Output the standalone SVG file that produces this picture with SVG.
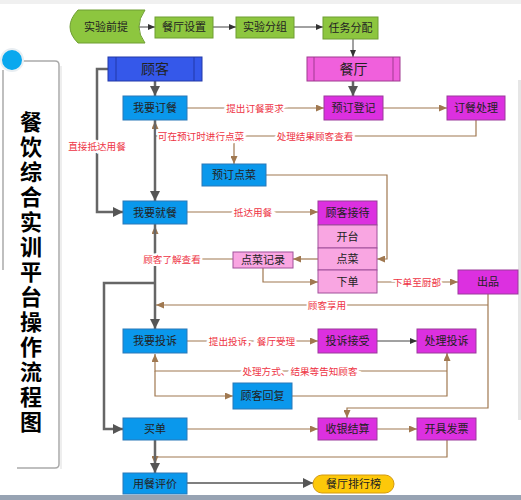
<svg xmlns="http://www.w3.org/2000/svg" width="521" height="500" viewBox="0 0 521 500">
<defs>
<style>
.t{font-family:"Noto Sans CJK SC","Noto Sans",sans-serif;font-size:11px;fill:#222;text-anchor:middle}
.big{font-size:14px}
.lbl{font-family:"Noto Sans CJK SC","Noto Sans",sans-serif;font-size:9.6px;fill:#ee3344;text-anchor:middle;stroke:#fff;stroke-width:4;paint-order:stroke}
.green{fill:#8dc63f;stroke:#6f9e33;stroke-width:1}
.blue{fill:#0a98ec;stroke:#2a78b8;stroke-width:1}
.mag{fill:#dc30e0;stroke:#9a3a9a;stroke-width:1}
.pink{fill:#f9a6e2;stroke:#a0509a;stroke-width:1}
.br{fill:none;stroke:#a07850;stroke-width:1.2}
.gr{fill:none;stroke:#666;stroke-width:2.5}
.dk{fill:none;stroke:#444;stroke-width:1}
</style>
<marker id="ab" markerUnits="userSpaceOnUse" markerWidth="8" markerHeight="7" refX="8" refY="3.5" orient="auto"><path d="M0,0 L8,3.5 L0,7 z" fill="#a07850"/></marker>
<marker id="ag" markerUnits="userSpaceOnUse" markerWidth="10" markerHeight="10" refX="10" refY="5" orient="auto"><path d="M0,0 L10,5 L0,10 z" fill="#555"/></marker>
<marker id="ad" markerUnits="userSpaceOnUse" markerWidth="7" markerHeight="6" refX="7" refY="3" orient="auto"><path d="M0,0 L7,3 L0,6 z" fill="#333"/></marker>
</defs>
<rect width="521" height="500" fill="#fff"/>
<rect x="0" y="0" width="521" height="4" fill="#f0f0f0"/>
<rect x="518" y="80" width="3" height="340" fill="#e6e6e6"/>
<rect x="0" y="495" width="521" height="5" fill="#97a3b3"/>

<g id="panel">
<path d="M18,61 H55 Q59,61 59,65 V464 Q59,468 55,468 H17" fill="none" stroke="#aaa" stroke-width="1.5"/>
<path d="M61,66 V469" fill="none" stroke="#ddd" stroke-width="1"/>
<path d="M3,70 V270" fill="none" stroke="#aaa" stroke-width="1.5"/>
<circle cx="12" cy="60" r="11" fill="#0aa8ee" stroke="#e8eef2" stroke-width="2"/>
<text x="31" y="111" writing-mode="tb" font-family="'Noto Sans CJK SC',sans-serif" font-size="22" font-weight="bold" fill="#000" letter-spacing="3">餐饮综合实训平台操作流程图</text>
</g>

<g id="connectors">
<path class="dk" d="M139,27 H155" marker-end="url(#ad)"/>
<path class="dk" d="M213,27 H236" marker-end="url(#ad)"/>
<path class="dk" d="M294,27 H323" marker-end="url(#ad)"/>
<path class="dk" d="M353,39 V57" marker-end="url(#ad)"/>
<path class="dk" d="M377,341 H417" marker-end="url(#ad)"/>

<path class="br" d="M233,259 H155 V226" marker-end="url(#ab)"/>
<path class="br" d="M476,120 V136 H155 V121" marker-end="url(#ab)"/>
<path class="br" d="M234,136 V164" marker-end="url(#ab)"/>
<path class="br" d="M187,108 H324" marker-end="url(#ab)"/>
<path class="br" d="M383,108 H447" marker-end="url(#ab)"/>
<path class="br" d="M266,175 H387 V259 H377" marker-end="url(#ab)"/>
<path class="br" d="M187,212 H318" marker-end="url(#ab)"/>
<path class="br" d="M318,259 H293" marker-end="url(#ab)"/>
<path class="br" d="M263,268 V282 H318" marker-end="url(#ab)"/>
<path class="br" d="M377,282 H458" marker-end="url(#ab)"/>
<path class="br" d="M488,294 V408 H347 V418" marker-end="url(#ab)"/>
<path class="br" d="M488,305 H156" marker-end="url(#ab)"/>
<path class="br" d="M187,341 H318" marker-end="url(#ab)"/>
<path class="br" d="M447,371 H155 V354" marker-end="url(#ab)"/>
<path class="br" d="M155,371 V396 H233" marker-end="url(#ab)"/>
<path class="br" d="M292,396 H447 V353" marker-end="url(#ab)"/>
<path class="br" d="M187,429 H318" marker-end="url(#ab)"/>
<path class="br" d="M377,429 H417" marker-end="url(#ab)"/>
<path class="br" d="M447,440 V457 H155 V464" marker-end="url(#ab)"/>

<path class="gr" d="M155,81 V96" marker-end="url(#ag)"/>
<path class="gr" d="M353,81 V96" marker-end="url(#ag)"/>
<path class="gr" d="M155,120 V201" marker-end="url(#ag)"/>
<path class="gr" d="M155,224 V329" marker-end="url(#ag)"/>
<path class="gr" d="M155,283 H104 V429 H123" marker-end="url(#ag)"/>
<path class="gr" d="M108,69 H97 V212 H123" marker-end="url(#ag)"/>
<path class="gr" d="M155,440 V473" marker-end="url(#ag)"/>
<path fill="none" stroke="#555" stroke-width="1.5" d="M187,483 H313" marker-end="url(#ag)"/>

<text class="lbl" x="255" y="111.5">提出订餐要求</text>
<text class="lbl" x="201" y="139.5">可在预订时进行点菜</text>
<text class="lbl" x="315" y="139.5">处理结果顾客查看</text>
<text class="lbl" x="97" y="149.5">直接抵达用餐</text>
<text class="lbl" x="253" y="215.5">抵达用餐</text>
<text class="lbl" x="172" y="262.5">顾客了解查看</text>
<text class="lbl" x="417" y="285.5">下单至厨部</text>
<text class="lbl" x="327" y="308.5">顾客享用</text>
<text class="lbl" x="252" y="344.5">提出投诉，餐厅受理</text>
<text class="lbl" x="300" y="374.5">处理方式、结果等告知顾客</text>
</g>

<g id="n_start"><path class="green" d="M78,10 H145 Q133,27 145,43 H78 Q62,27 78,10 Z"/><text class="t" x="106" y="31">实验前提</text></g>
<g id="n_setup"><rect class="green" x="155" y="17" width="58" height="21"/><text class="t" x="184" y="31">餐厅设置</text></g>
<g id="n_group"><rect class="green" x="236" y="17" width="58" height="21"/><text class="t" x="265" y="31">实验分组</text></g>
<g id="n_task"><rect class="green" x="323" y="17" width="55" height="22"/><text class="t" x="350.5" y="31.5">任务分配</text></g>

<g id="n_customer"><rect x="108" y="57" width="94" height="24" fill="#3558ea" stroke="#2238a8"/><path d="M116,57 V81 M194,57 V81" stroke="#2238a8" fill="none"/><text class="t big" x="155" y="74">顾客</text></g>
<g id="n_restaurant"><rect x="307" y="57" width="93" height="24" fill="#f060dc" stroke="#a03a90"/><path d="M314,57 V81 M393,57 V81" stroke="#a03a90" fill="none"/><text class="t big" x="353.5" y="74">餐厅</text></g>

<g id="n_order"><rect class="blue" x="123" y="96" width="64" height="24"/><text class="t" x="155" y="112">我要订餐</text></g>
<g id="n_book"><rect class="mag" x="324" y="96" width="59" height="24"/><text class="t" x="353.5" y="112">预订登记</text></g>
<g id="n_orderproc"><rect class="mag" x="447" y="96" width="58" height="24"/><text class="t" x="476" y="112">订餐处理</text></g>
<g id="n_preorder"><rect class="blue" x="202" y="164" width="64" height="22"/><text class="t" x="234" y="179">预订点菜</text></g>
<g id="n_dine"><rect class="blue" x="123" y="201" width="64" height="23"/><text class="t" x="155" y="216.5">我要就餐</text></g>
<g id="n_reception"><rect class="mag" x="318" y="201" width="59" height="24"/><text class="t" x="347.5" y="217">顾客接待</text></g>
<g id="n_table"><rect class="pink" x="318" y="225" width="59" height="23"/><text class="t" x="347.5" y="240.5">开台</text></g>
<g id="n_dish"><rect class="pink" x="318" y="248" width="59" height="22"/><text class="t" x="347.5" y="263">点菜</text></g>
<g id="n_submit"><rect class="pink" x="318" y="270" width="59" height="23"/><text class="t" x="347.5" y="285.5">下单</text></g>
<g id="n_record"><rect class="pink" x="233" y="252" width="60" height="16"/><text class="t" x="263" y="264">点菜记录</text></g>
<g id="n_serve"><rect class="mag" x="458" y="270" width="60" height="24"/><text class="t" x="488" y="286">出品</text></g>
<g id="n_complain"><rect class="blue" x="123" y="329" width="64" height="24"/><text class="t" x="155" y="345">我要投诉</text></g>
<g id="n_accept"><rect class="mag" x="318" y="329" width="59" height="24"/><text class="t" x="347.5" y="345">投诉接受</text></g>
<g id="n_handle"><rect class="mag" x="417" y="329" width="59" height="24"/><text class="t" x="446.5" y="345">处理投诉</text></g>
<g id="n_reply"><rect class="blue" x="233" y="383" width="59" height="26"/><text class="t" x="262.5" y="400">顾客回复</text></g>
<g id="n_pay"><rect class="blue" x="123" y="418" width="64" height="22"/><text class="t" x="155" y="433">买单</text></g>
<g id="n_cashier"><rect class="mag" x="318" y="418" width="59" height="22"/><text class="t" x="347.5" y="433">收银结算</text></g>
<g id="n_invoice"><rect class="mag" x="417" y="418" width="59" height="22"/><text class="t" x="446.5" y="433">开具发票</text></g>
<g id="n_review"><rect class="blue" x="123" y="473" width="64" height="21"/><text class="t" x="155" y="487.5">用餐评价</text></g>
<g id="n_rank"><rect x="313" y="475" width="81" height="18" rx="9" fill="#fdc80a" stroke="#d49a10"/><text class="t" x="353.5" y="488">餐厅排行榜</text></g>
</svg>
